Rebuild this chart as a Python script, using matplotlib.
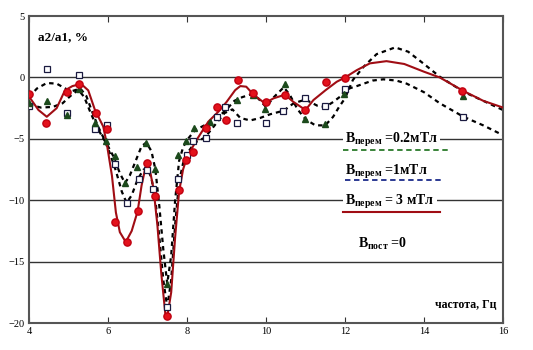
import matplotlib
matplotlib.use("Agg")
import matplotlib.pyplot as plt

plt.rcParams['font.family'] = ['Liberation Serif', 'DejaVu Serif']
plt.rcParams['mathtext.fontset'] = 'custom'
plt.rcParams['mathtext.rm'] = 'Liberation Serif:bold'

# measured points
f_red = [4.0, 4.43, 4.95, 5.27, 5.69, 5.97, 6.18, 6.47, 6.77, 6.99, 7.19, 7.49, 7.80,
         7.97, 8.16, 8.47, 8.77, 8.98, 9.28, 9.68, 10.0, 10.48, 11.0, 11.51, 12.0, 14.97]
a_red = [-1.35, -3.7, -1.2, -0.55, -2.9, -4.2, -11.8, -13.4, -10.9, -7.0, -9.65, -19.4, -9.2,
         -6.7, -6.1, -4.1, -2.4, -3.5, -0.2, -1.25, -2.0, -1.4, -2.65, -0.4, -0.07, -1.1]

f_tri = [4.0, 4.45, 4.95, 5.27, 5.67, 5.95, 6.18, 6.43, 6.73, 6.97, 7.19, 7.49, 7.78,
         7.97, 8.17, 8.58, 9.26, 9.68, 9.97, 10.48, 10.99, 11.49, 11.97, 15.0]
a_tri = [-2.1, -1.9, -3.05, -0.97, -3.7, -5.2, -6.4, -8.6, -7.3, -5.3, -7.45, -16.8, -6.3,
         -5.2, -4.15, -3.6, -1.8, -1.4, -2.6, -0.56, -3.4, -3.8, -1.35, -1.5]

f_sq = [4.0, 4.45, 4.95, 5.27, 5.67, 5.97, 6.18, 6.47, 6.79, 6.99, 7.15, 7.49, 7.78,
        7.99, 8.16, 8.47, 8.77, 8.96, 9.27, 9.99, 10.44, 10.99, 11.49, 12.0, 15.0]
a_sq = [-2.3, 0.68, -2.87, 0.2, -4.2, -3.9, -7.05, -10.2, -8.3, -7.55, -9.1, -18.7, -8.3,
        -6.3, -5.15, -4.96, -3.2, -2.4, -3.7, -3.74, -2.74, -1.65, -2.33, -0.9, -3.25]

# fitted curves
fc_red = [4.0, 4.24, 4.45, 4.7, 4.91, 5.1, 5.25, 5.38, 5.5, 5.67, 5.88, 5.97, 6.1, 6.2, 6.3,
          6.45, 6.6, 6.75, 6.85, 6.95, 7.05, 7.15, 7.25, 7.35, 7.45, 7.5, 7.6, 7.7, 7.8,
          7.9, 8.0, 8.24, 8.54, 8.79, 9.0, 9.22, 9.35, 9.5, 9.68, 9.97, 10.19, 10.48,
          10.69, 11.0, 11.2, 11.51, 11.79, 12.0, 12.3, 12.63, 13.05, 13.5, 14.0, 14.4,
          15.0, 15.5, 16.0]
ac_red = [-1.55, -2.65, -3.2, -2.5, -1.05, -0.7, -0.58, -0.7, -1.05, -2.65, -4.0, -5.4,
          -8.0, -11.0, -12.6, -13.4, -12.5, -10.9, -8.8, -7.3, -7.4, -9.0, -12.0, -16.0,
          -19.2, -19.5, -17.5, -13.0, -9.3, -7.5, -6.5, -5.1, -3.6, -2.8, -2.0, -1.03,
          -0.7, -0.75, -1.38, -2.1, -1.7, -1.4, -1.98, -2.65, -1.84, -1.03, -0.35, 0.0,
          0.6, 1.15, 1.33, 1.1, 0.47, 0.0, -1.1, -1.9, -2.45]

fc_tri = [4.0, 4.3, 4.6, 4.85, 5.05, 5.25, 5.4, 5.55, 5.7, 5.85, 6.0, 6.15, 6.3, 6.43,
          6.55, 6.7, 6.85, 6.97, 7.1, 7.2, 7.3, 7.4, 7.5, 7.6, 7.7, 7.8, 7.9, 8.0, 8.2,
          8.5, 8.8, 9.0, 9.2, 9.4, 9.6, 9.8, 10.0, 10.2, 10.45, 10.6, 10.8, 11.0, 11.25,
          11.5, 11.7, 11.85, 12.0, 12.2, 12.47, 12.8, 13.27, 13.6, 14.0, 14.4, 15.0,
          15.5, 16.0]
ac_tri = [-2.2, -2.45, -2.4, -2.1, -1.5, -1.0, -1.6, -2.8, -3.9, -4.8, -5.6, -6.5, -7.8,
          -8.6, -8.0, -6.8, -5.6, -5.3, -6.0, -7.5, -10.5, -14.0, -16.8, -14.5, -10.0,
          -6.8, -5.7, -5.1, -4.3, -3.8, -3.2, -2.6, -1.9, -1.6, -1.4, -1.7, -2.4, -1.6,
          -0.8, -1.4, -2.6, -3.4, -3.9, -3.9, -3.2, -2.4, -1.7, -0.2, 0.87, 1.9, 2.45,
          2.1, 1.1, 0.06, -1.16, -1.9, -2.65]

fc_sq = [4.0, 4.2, 4.45, 4.7, 4.95, 5.1, 5.3, 5.45, 5.6, 5.75, 5.9, 6.05, 6.2, 6.35,
         6.47, 6.6, 6.75, 6.9, 7.0, 7.1, 7.2, 7.3, 7.4, 7.5, 7.6, 7.7, 7.8, 7.9, 8.0,
         8.2, 8.45, 8.7, 8.95, 9.15, 9.35, 9.6, 9.85, 10.1, 10.45, 10.7, 11.0, 11.3,
         11.5, 11.7, 11.9, 12.0, 12.3, 12.7, 12.97, 13.3, 13.56, 14.0, 14.4, 15.0,
         15.5, 16.0]
ac_sq = [-1.6, -0.9, -0.45, -0.5, -0.95, -1.1, -0.9, -1.5, -2.8, -4.0, -5.0, -6.2, -7.6,
         -9.3, -10.2, -9.6, -8.3, -7.5, -7.4, -8.2, -10.0, -13.0, -16.5, -18.7, -16.5,
         -12.0, -8.5, -7.0, -6.2, -5.3, -4.9, -3.9, -2.9, -2.6, -3.3, -3.5, -3.3, -3.0,
         -2.7, -2.1, -1.8, -2.3, -2.4, -2.0, -1.5, -1.0, -0.7, -0.25, -0.15, -0.25, -0.5,
         -1.2, -2.1, -3.2, -3.9, -4.7]

fig = plt.figure(figsize=(5.33, 3.5), dpi=100)
ax = fig.add_axes([0.0544, 0.0771, 0.8893, 0.8769])

for yg in [0, -5, -10, -15]:
    ax.axhline(yg, color='#333333', lw=1.0, zorder=1)

dash = (0, (2.0, 1.8))
ax.plot(fc_tri, ac_tri, color='black', lw=1.6, linestyle=dash, zorder=2)
ax.plot(fc_sq, ac_sq, color='black', lw=1.6, linestyle=dash, zorder=2)
ax.plot(fc_red, ac_red, color='#a00d14', lw=1.5, zorder=3)

ax.plot(f_sq, a_sq, 's', ms=4.5, mfc='white', mec='#1a1a40', mew=0.9, zorder=4)
ax.plot(f_tri, a_tri, '^', ms=5, mfc='#1c4a1c', mec='#1c4a1c', zorder=5)
ax.plot(f_red, a_red, 'o', ms=5.2, mfc='#e3121c', mec='#c00010', zorder=6)

ax.set_xlim(4, 16)
ax.set_ylim(-20, 5)
ax.set_xticks([4, 6, 8, 10, 12, 14, 16])
ax.set_yticks([5, 0, -5, -10, -15, -20])
ax.tick_params(axis='x', direction='in', length=4, top=True, labelsize=7.5, pad=3,
               color='#333333')
ax.tick_params(axis='y', length=0, labelsize=7.5, pad=3)
for s in ax.spines.values():
    s.set_color('#555555')
    s.set_linewidth(1.5)

ax.text(0.02, 0.93, 'a2/a1, %', transform=ax.transAxes, fontsize=9.5,
        fontweight='bold', va='center', ha='left')
ax.text(0.985, 0.06, 'частота, Гц', transform=ax.transAxes, fontsize=8.5,
        fontweight='bold', va='center', ha='right')

box = dict(facecolor='white', edgecolor='none', pad=1.5)
ax.text(0.667, 0.598, r'B$_{\mathrm{перем}}$ =0.2мТл', transform=ax.transAxes,
        fontsize=10, fontweight='bold', va='center', ha='left', bbox=box, zorder=7)
ax.text(0.667, 0.494, r'B$_{\mathrm{перем}}$ =1мТл', transform=ax.transAxes,
        fontsize=10, fontweight='bold', va='center', ha='left', bbox=box, zorder=7)
ax.text(0.667, 0.396, r'B$_{\mathrm{перем}}$ = 3 мТл', transform=ax.transAxes,
        fontsize=10, fontweight='bold', va='center', ha='left', bbox=box, zorder=7)
ax.text(0.694, 0.259, r'B$_{\mathrm{пост}}$ =0', transform=ax.transAxes,
        fontsize=10, fontweight='bold', va='center', ha='left', zorder=7)

ax.plot([0.662, 0.888], [0.5635, 0.5635], transform=ax.transAxes, color='#2a7a2a',
        lw=1.3, linestyle=(0, (3, 2)), zorder=7)
ax.plot([0.667, 0.871], [0.466, 0.466], transform=ax.transAxes, color='#1a2a8a',
        lw=1.3, linestyle=(0, (3, 2)), zorder=7)
ax.plot([0.662, 0.867], [0.3625, 0.3625], transform=ax.transAxes, color='#a00d14',
        lw=1.5, zorder=7)

fig.savefig('out.png', dpi=100)
